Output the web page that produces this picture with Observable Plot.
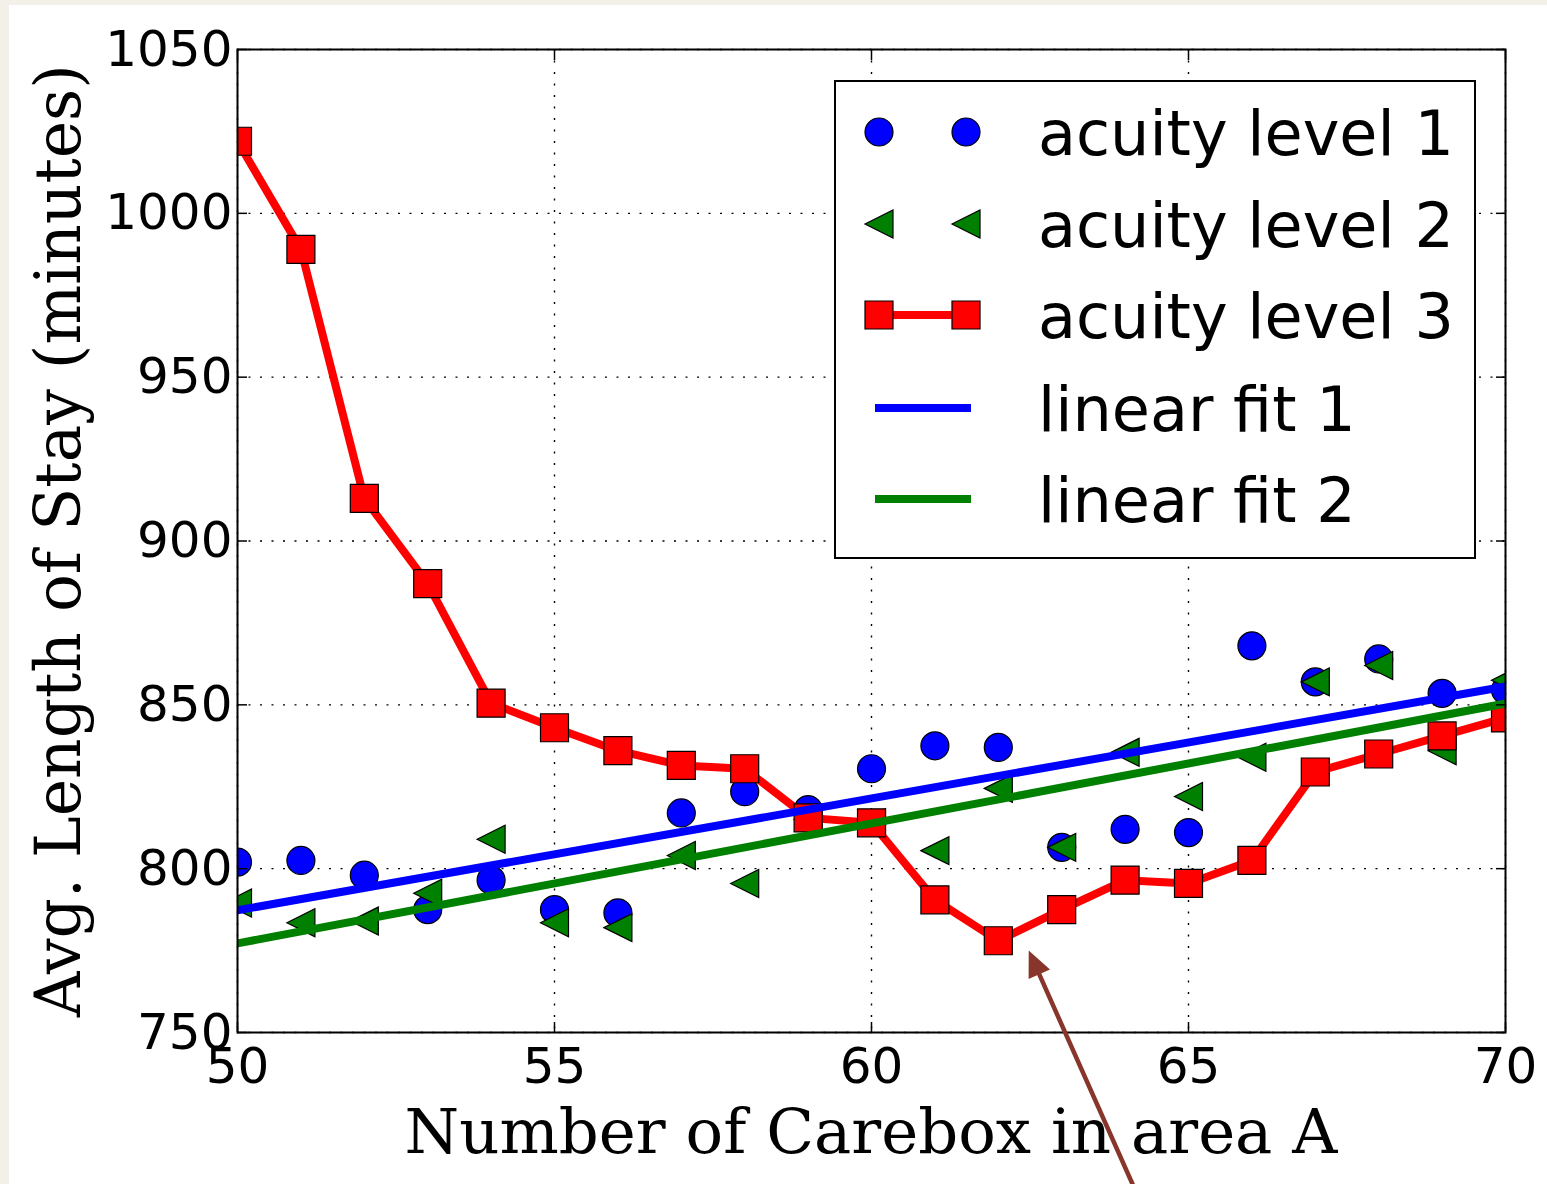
<!DOCTYPE html>
<html><head><meta charset="utf-8">
<script src="https://cdn.jsdelivr.net/npm/d3@7"></script>
<script src="https://cdn.jsdelivr.net/npm/@observablehq/plot@0.6"></script>
<style>
html,body{margin:0;padding:0;background:#f3f0ea;}
#wrap{position:absolute;left:9px;top:5px;width:1538px;height:1179px;background:#fff;overflow:hidden;}
</style></head><body><div id="wrap"></div>
<script>
// ---- data ----
const carebox = [50,51,52,53,54,55,56,57,58,59,60,61,62,63,64,65,66,67,68,69,70];
const acuity1 = [802,802.5,798,787.5,796.5,787.5,786.5,817,823.5,818,830.5,837.5,837,806.5,812,811,868,857,864,853.5,854.5];
const acuity2 = [789.5,783.5,784,792.5,809,783.5,782,804,795.5,815,814,805.5,824.5,806.5,835.5,822,834,857,862,836,857.5];
const acuity3 = [1022,989,913,887,850.5,843,836,831.5,830.5,815.5,814,790.5,778,787.5,796.5,795.5,802.5,829.5,835,840.5,846];
const fitX = [50,70];
const fit1 = [787.3,855.6];
const fit2 = [777.2,850.4];
const xTicks = [50,55,60,65,70];
const yTicks = [750,800,850,900,950,1000,1050];
const xDomain = [50,70];
const yDomain = [750,1050];
const seriesNames = ["acuity level 1","acuity level 2","acuity level 3","linear fit 1","linear fit 2"];
const seriesColors = ["#0000ff","#008000","#ff0000","#0000ff","#008000"];
const arrowTail = [64.12,703.6];
const arrowTip = [62.48,775.0];
const xLabel = "Number of Carebox in area A";
const yLabel = "Avg. Length of Stay (minutes)";

// ---- layout ----
const W=1538,H=1179,ML=228,MR=42,MT=44,MB=152;
const pxX=(W-ML-MR)/(xDomain[1]-xDomain[0]);
const pxY=(H-MT-MB)/(yDomain[1]-yDomain[0]);

const rows1 = carebox.map((x,i)=>({x,y:acuity1[i]}));
const rows2 = carebox.map((x,i)=>({x,y:acuity2[i]}));
const rows3 = carebox.map((x,i)=>({x,y:acuity3[i]}));
const fitRows1 = fitX.map((x,i)=>({x,y:fit1[i]}));
const fitRows2 = fitX.map((x,i)=>({x,y:fit2[i]}));
const arrowRows = [{x1:arrowTail[0],y1:arrowTail[1],x2:arrowTip[0],y2:arrowTip[1]}];
const headAngle = Math.atan2((arrowTip[0]-arrowTail[0])*pxX, (arrowTip[1]-arrowTail[1])*pxY)*180/Math.PI;

const R = s=>Math.sqrt(s/Math.PI);
const circleSym={draw(c,s){const r=R(s);c.moveTo(r,0);c.arc(0,0,r,0,2*Math.PI);c.closePath();}};
const squareSym={draw(c,s){const r=R(s);c.rect(-r,-r,2*r,2*r);}};
const triSym={draw(c,s){const r=R(s);c.moveTo(-r,0);c.lineTo(r,-r);c.lineTo(r,r);c.closePath();}};
const headSym={draw(c,s){const r=R(s);c.moveTo(0,0);c.lineTo(-0.9*r,2*r);c.lineTo(0.9*r,2*r);c.closePath();}};

const MS=14;
const LW=8;
const gridStyle={stroke:"#000",strokeOpacity:1,strokeWidth:1.4,strokeDasharray:"2,9.5"};
const tickStyle={tickSize:-10,tickFormat:()=>"",label:null,strokeWidth:1.5};
const fmt = d=>String(d);

const chart = Plot.plot({
  width:W,height:H,marginLeft:ML,marginRight:MR,marginTop:MT,marginBottom:MB,
  x:{domain:xDomain},y:{domain:yDomain},
  style:{background:"transparent",fontFamily:"'DejaVu Sans'",fontSize:"50px",color:"#000",overflow:"visible"},
  marks:[
    Plot.gridX(xTicks,gridStyle),
    Plot.gridY(yTicks,gridStyle),
    Plot.dot(rows1,{x:"x",y:"y",symbol:circleSym,r:MS,fill:seriesColors[0],stroke:"#000",strokeWidth:1.2,clip:true}),
    Plot.dot(rows2,{x:"x",y:"y",symbol:triSym,r:MS,fill:seriesColors[1],stroke:"#000",strokeWidth:1.2,clip:true}),
    Plot.line(rows3,{x:"x",y:"y",stroke:seriesColors[2],strokeWidth:LW,clip:true}),
    Plot.dot(rows3,{x:"x",y:"y",symbol:squareSym,r:MS,fill:seriesColors[2],stroke:"#000",strokeWidth:1.2,clip:true}),
    Plot.line(fitRows1,{x:"x",y:"y",stroke:seriesColors[3],strokeWidth:LW,clip:true}),
    Plot.line(fitRows2,{x:"x",y:"y",stroke:seriesColors[4],strokeWidth:LW,clip:true}),
    Plot.frame({stroke:"#000",strokeWidth:2}),
    Plot.axisX(xTicks,{anchor:"bottom",...tickStyle}),
    Plot.axisX(xTicks,{anchor:"top",...tickStyle}),
    Plot.axisY(yTicks,{anchor:"left",...tickStyle}),
    Plot.axisY(yTicks,{anchor:"right",...tickStyle}),
    Plot.axisX(xTicks,{anchor:"bottom",tickSize:0,tickPadding:15,label:null,fontSize:50,tickFormat:fmt}),
    Plot.axisY(yTicks,{anchor:"left",tickSize:0,tickPadding:5,label:null,fontSize:50,tickFormat:fmt}),
    Plot.arrow(arrowRows,{x1:"x1",y1:"y1",x2:"x2",y2:"y2",stroke:"#88362c",strokeWidth:4.5,headLength:0,insetEnd:14}),
    Plot.dot([{x:arrowTip[0],y:arrowTip[1]}],{x:"x",y:"y",symbol:headSym,r:13,rotate:headAngle,fill:"#88362c",stroke:"none"})
  ]
});
document.getElementById("wrap").appendChild(chart);

const svg = d3.select(chart);
// axis labels
svg.append("text").attr("x",ML+(W-ML-MR)/2).attr("y",1148).attr("text-anchor","middle")
  .attr("font-family","'DejaVu Serif'").attr("font-size",62.5).attr("fill","#000").text(xLabel);
svg.append("text").attr("transform",`translate(71,${MT+(H-MT-MB)/2}) rotate(-90)`).attr("text-anchor","middle")
  .attr("font-family","'DejaVu Serif'").attr("font-size",63).attr("fill","#000").text(yLabel);

// legend
const lg = svg.append("g").attr("text-anchor","start");
lg.append("rect").attr("x",826).attr("y",76).attr("width",640).attr("height",477)
  .attr("fill","#fff").attr("stroke","#000").attr("stroke-width",2);
const rowY=[127,219,310,403,494];
const mx=[870,957];
const sz=Math.PI*MS*MS;
const legSym=[circleSym,triSym,squareSym,null,null];
seriesNames.forEach((name,i)=>{
  const y=rowY[i];
  if(i===2){lg.append("line").attr("x1",mx[0]).attr("x2",mx[1]).attr("y1",y).attr("y2",y).attr("stroke",seriesColors[i]).attr("stroke-width",LW);}
  if(i>=3){lg.append("line").attr("x1",866).attr("x2",962).attr("y1",y).attr("y2",y).attr("stroke",seriesColors[i]).attr("stroke-width",LW);}
  if(legSym[i]){mx.forEach(x=>{lg.append("path").attr("d",d3.symbol(legSym[i],sz)()).attr("transform",`translate(${x},${y})`)
     .attr("fill",seriesColors[i]).attr("stroke","#000").attr("stroke-width",1.2);});}
  lg.append("text").attr("x",1029).attr("y",y+23).attr("text-anchor","start").attr("font-family","'DejaVu Sans'").attr("font-size",62).attr("fill","#000").text(name);
});
</script></body></html>
